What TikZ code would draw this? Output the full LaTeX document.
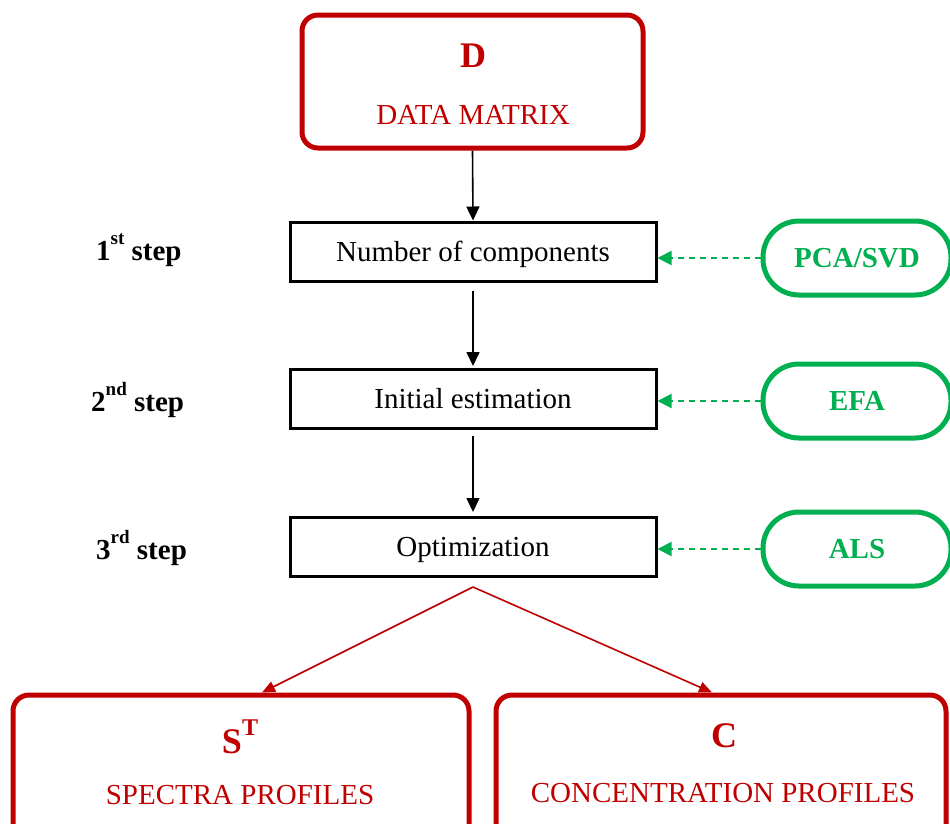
\documentclass[tikz,border=0pt]{standalone}
\usepackage{fontspec}
\setmainfont{Liberation Serif}
\usetikzlibrary{arrows.meta}
\definecolor{dred}{RGB}{192,0,0}
\definecolor{dgreen}{RGB}{0,176,80}
\newcommand{\mysup}[1]{\raisebox{0.55em}{\fontsize{19}{20}\selectfont #1}}
\begin{document}
\begin{tikzpicture}[x=1pt,y=-1pt,
  redbox/.style={draw=dred,line width=5pt,rounded corners=16pt,inner sep=0pt},
  stepbox/.style={draw=black,line width=3pt,inner sep=0pt,minimum width=366pt,minimum height=59pt,text height=22pt,text depth=3pt,font=\fontsize{29}{34}\selectfont},
  greenbox/.style={draw=dgreen,line width=5pt,rounded corners=36pt,inner sep=0pt,minimum width=188pt,minimum height=74pt,text height=22pt,text depth=3pt,text=dgreen,font=\fontsize{29}{34}\selectfont\bfseries},
  redtxt/.style={text=dred,font=\fontsize{29}{34}\selectfont,inner sep=0pt},
  bigred/.style={text=dred,font=\fontsize{36}{40}\selectfont\bfseries,inner sep=0pt},
  steplbl/.style={anchor=west,font=\fontsize{29}{34}\selectfont\bfseries,inner sep=0pt},
  blackarr/.style={line width=1.6pt,-{Triangle[length=14pt,width=13pt]}},
  greenarr/.style={draw=dgreen,line width=2pt,dash pattern=on 6pt off 5pt,-{Triangle[length=14pt,width=14pt]}},
  redarr/.style={draw=dred,line width=1.6pt,-{Triangle[length=13pt,width=11pt]}}]
\useasboundingbox (0,0) rectangle (950,823);
\clip (0,0) rectangle (950,823);

% top data matrix
\node[redbox,minimum width=341pt,minimum height=133pt] (dm) at (472.5,81.5) {};
\node[bigred] (dmD) at (473,56) {D};
\node[redtxt] (dmT) at (473,115) {DATA MATRIX};

% steps
\node[stepbox] (s1) at (473,251.5) {Number of components};
\node[stepbox] (s2) at (473,399) {Initial estimation};
\node[stepbox] (s3) at (473,547) {Optimization};

\node[steplbl] (l1) at (96,250) {1\mysup{st} step};
\node[steplbl] (l2) at (91,400) {2\mysup{nd} step};
\node[steplbl] (l3) at (96,548) {3\mysup{rd} step};

% green methods
\node[greenbox] (g1) at (857,258) {PCA/SVD};
\node[greenbox] (g2) at (857,401) {EFA};
\node[greenbox] (g3) at (857,549) {ALS};

% bottom outputs
\node[redbox,minimum width=456pt,minimum height=150pt] (sb) at (241,770) {};
\node[redbox,minimum width=450pt,minimum height=150pt] (cb) at (721,770) {};
\node[bigred] (sbS) at (240,737) {S\raisebox{0.5em}{\fontsize{24}{26}\selectfont T}};
\node[redtxt] (sbT) at (240,795) {SPECTRA PROFILES};
\node[bigred] (cbC) at (724,736) {C};
\node[redtxt] (cbT) at (723,793) {CONCENTRATION PROFILES};

% connectors
\draw[blackarr] (dm.south) -- (s1.north);
\draw[blackarr,shorten <=8pt,shorten >=2pt] (s1.south) -- (s2.north);
\draw[blackarr,shorten <=6pt,shorten >=4pt] (s2.south) -- (s3.north);

\draw[greenarr] (g1.west) -- (g1.west -| s1.east);
\draw[greenarr] (g2.west) -- (g2.west -| s2.east);
\draw[greenarr] (g3.west) -- (g3.west -| s3.east);

\coordinate (apex) at (473,587);
\draw[redarr] (apex) -- (262,0 |- sb.north);
\draw[redarr] (apex) -- (712,0 |- cb.north);
\end{tikzpicture}
\end{document}
